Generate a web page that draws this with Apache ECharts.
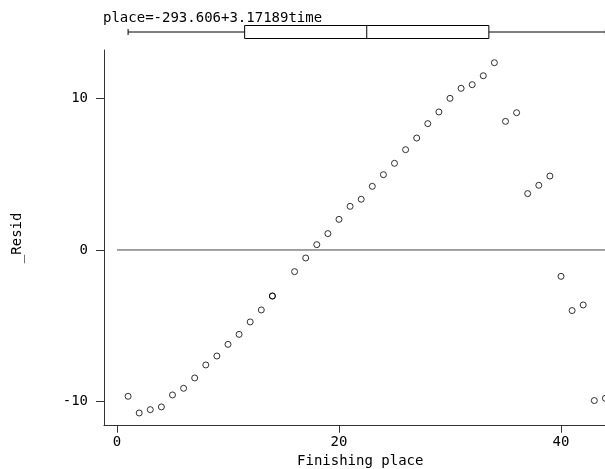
<!DOCTYPE html>
<html>
<head>
<meta charset="utf-8">
<script src="https://cdn.jsdelivr.net/npm/echarts@6/dist/echarts.min.js"></script>
<style>html,body{margin:0;padding:0;background:#fff}#c{width:605px;height:469px}</style>
</head>
<body>
<div id="c"></div>
<script>
const places = [1,2,3,4,5,6,7,8,9,10,11,12,13,14,14,16,17,18,19,20,21,22,23,24,25,26,27,28,29,30,31,32,33,34,35,36,37,38,39,40,41,42,43,44];
const resid = [-9.66,-10.76,-10.54,-10.36,-9.57,-9.13,-8.45,-7.59,-7.0,-6.23,-5.57,-4.75,-3.96,-3.04,-3.04,-1.43,-0.53,0.35,1.08,2.02,2.88,3.35,4.2,4.97,5.72,6.62,7.39,8.34,9.11,10.01,10.67,10.91,11.5,12.36,8.49,9.06,3.72,4.27,4.88,-1.74,-4.0,-3.63,-9.94,-9.79];
const boxStats = [1, 11.5, 22.5, 33.5, 44]; // min, q1, median, q3, max of place
const xTicks = [0, 20, 40];
const yTicks = [-10, 0, 10];
const titleText = 'place=-293.606+3.17189time';
const xName = 'Finishing place';
const yName = '_Resid';

const FONT = 'DejaVu Sans Mono';
const AX = '#333';
const XMIN = -1.17, XMAX = 45;

const chart = echarts.init(document.getElementById('c'), null, {renderer: 'canvas'});
chart.setOption({
  animation: false,
  backgroundColor: '#fff',
  title: {text: titleText, left: 98, top: 6, textStyle: {fontFamily: FONT, fontSize: 14, fontWeight: 'normal', color: '#000'}},
  grid: [
    {left: 104, width: 512.5, top: 50, bottom: 43.3, outerBoundsMode: 'none', containLabel: false},
    {left: 104, width: 512.5, top: 22, height: 20, outerBoundsMode: 'none', containLabel: false}
  ],
  xAxis: [
    {type: 'value', gridIndex: 0, min: XMIN, max: XMAX,
     name: xName, nameLocation: 'middle', nameGap: 26,
     nameTextStyle: {fontFamily: FONT, fontSize: 14, color: '#000'},
     axisLine: {show: true, onZero: false, lineStyle: {color: AX, width: 1}},
     axisTick: {show: true, length: 7, customValues: xTicks, lineStyle: {color: AX}},
     axisLabel: {customValues: xTicks, fontFamily: FONT, fontSize: 14, color: '#000', margin: 10},
     splitLine: {show: false}},
    {type: 'value', gridIndex: 1, min: XMIN, max: XMAX, show: false}
  ],
  yAxis: [
    {type: 'value', gridIndex: 0, min: -11.6, max: 13.2,
     name: yName, nameLocation: 'middle', nameGap: 80, nameRotate: 90,
     nameTextStyle: {fontFamily: FONT, fontSize: 14, color: '#000'},
     axisLine: {show: true, onZero: false, lineStyle: {color: AX, width: 1}},
     axisTick: {show: true, length: 8, customValues: yTicks, lineStyle: {color: AX}},
     axisLabel: {customValues: yTicks, fontFamily: FONT, fontSize: 14, color: '#000', margin: 16},
     splitLine: {show: false}},
    {type: 'value', gridIndex: 1, min: 0, max: 1, show: false}
  ],
  series: [
    {type: 'line', xAxisIndex: 0, yAxisIndex: 0, data: [[0, 0], [XMAX, 0]],
     symbol: 'none', lineStyle: {color: '#444', width: 1}, silent: true},
    {type: 'scatter', xAxisIndex: 0, yAxisIndex: 0,
     data: places.map((p, i) => [p, resid[i]]),
     symbol: 'circle', symbolSize: 6,
     itemStyle: {color: 'rgba(255,255,255,0)', borderColor: '#000', borderWidth: 1}},
    {type: 'custom', xAxisIndex: 1, yAxisIndex: 1, data: [boxStats],
     renderItem: function (params, api) {
       const yc = api.coord([0, 0.5])[1];
       const h = 13, cap = 3;
       const px = boxStats.map(v => api.coord([v, 0.5])[0]);
       const st = {stroke: '#000', lineWidth: 1, fill: null};
       return {type: 'group', children: [
         {type: 'line', shape: {x1: px[0], y1: yc, x2: px[1], y2: yc}, style: st},
         {type: 'line', shape: {x1: px[3], y1: yc, x2: px[4], y2: yc}, style: st},
         {type: 'line', shape: {x1: px[0], y1: yc - cap, x2: px[0], y2: yc + cap}, style: st},
         {type: 'line', shape: {x1: px[4], y1: yc - cap, x2: px[4], y2: yc + cap}, style: st},
         {type: 'rect', shape: {x: px[1], y: yc - h / 2, width: px[3] - px[1], height: h}, style: {stroke: '#000', lineWidth: 1, fill: '#fff'}},
         {type: 'line', shape: {x1: px[2], y1: yc - h / 2, x2: px[2], y2: yc + h / 2}, style: st}
       ]};
     }}
  ]
});
</script>
</body>
</html>
